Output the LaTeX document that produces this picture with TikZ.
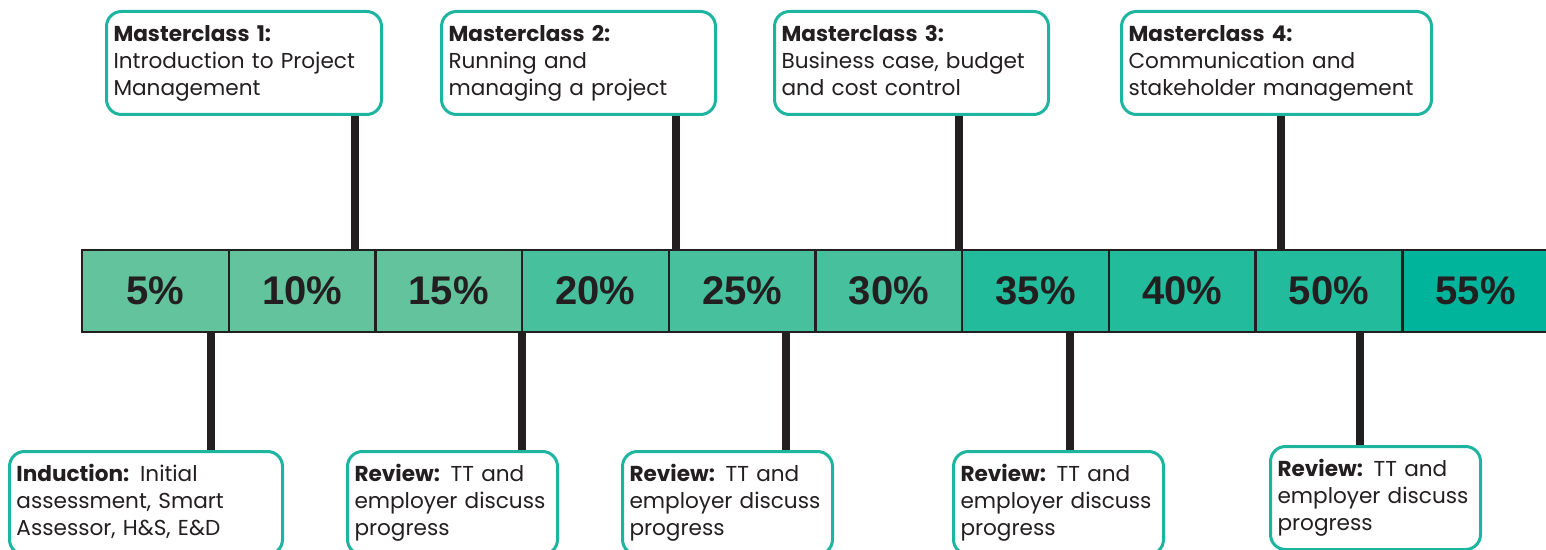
\documentclass[tikz,border=0pt]{standalone}
\usepackage{fontspec}
\setmainfont{Poppins}
\newfontfamily\pctfont{Liberation Sans}
\usetikzlibrary{positioning,calc}
\hyphenpenalty=10000
\definecolor{barA}{RGB}{98,195,156}
\definecolor{barB}{RGB}{71,192,157}
\definecolor{barC}{RGB}{34,187,156}
\definecolor{barD}{RGB}{0,180,155}
\definecolor{boxteal}{RGB}{29,181,160}
\definecolor{inkdark}{RGB}{35,31,32}
\tikzset{
	cell/.style={rectangle,draw=inkdark,line width=1.2pt,minimum width=73.35pt,minimum height=41pt,inner sep=0pt,font=\pctfont\fontsize{20}{20}\bfseries,text=inkdark},
	infobox/.style={rectangle,draw=boxteal,line width=1.5pt,rounded corners=7.5pt,fill=white,anchor=north west,align=left,inner sep=3.5pt,minimum height=51.5pt,font=\fontsize{10.8}{13.5}\selectfont,text=inkdark,execute at begin node=\strut,execute at end node=\strut},
	stem/.style={draw=inkdark,line width=4pt}}
\begin{document}
\begin{tikzpicture}[x=0.5pt,y=-0.5pt]
	\clip (0,0) rectangle (1546,550);
	\node (c1) at (155.35,291) [cell,fill=barA] {5\%};
	\node (c2) at (302.05,291) [cell,fill=barA] {10\%};
	\node (c3) at (448.75,291) [cell,fill=barA] {15\%};
	\node (c4) at (595.45,291) [cell,fill=barB] {20\%};
	\node (c5) at (742.15,291) [cell,fill=barB] {25\%};
	\node (c6) at (888.85,291) [cell,fill=barB] {30\%};
	\node (c7) at (1035.55,291) [cell,fill=barC] {35\%};
	\node (c8) at (1182.25,291) [cell,fill=barC] {40\%};
	\node (c9) at (1328.95,291) [cell,fill=barC] {50\%};
	\node (c10) at (1475.65,291) [cell,fill=barD] {55\%};
	\coordinate (t1) at (355,250);
	\coordinate (t2) at (676,250);
	\coordinate (t3) at (959,250);
	\coordinate (t4) at (1281,250);
	\coordinate (b1) at (211,332);
	\coordinate (b2) at (522,332);
	\coordinate (b3) at (786,332);
	\coordinate (b4) at (1070,332);
	\coordinate (b5) at (1360,332);
	\node (mc1) at (105,10) [infobox,text width=130.5pt] {\textbf{Masterclass 1:}\\Introduction to Project\\Management};
	\node (mc2) at (440,10) [infobox,text width=130pt] {\textbf{Masterclass 2:}\\Running and\\managing a project};
	\node (mc3) at (773,10) [infobox,text width=130pt] {\textbf{Masterclass 3:}\\Business case, budget\\and cost control};
	\node (mc4) at (1120,10) [infobox,text width=148pt] {\textbf{Masterclass 4:}\\Communication and\\stakeholder management};
	\node (ind) at (8,450) [infobox,text width=129.5pt] {\textbf{Induction:} Initial\\assessment, Smart\\Assessor, H\&S, E\&D};
	\node (rv1) at (346,450) [infobox,text width=98pt] {\textbf{Review:} TT and\\employer discuss\\progress};
	\node (rv2) at (621,450) [infobox,text width=98pt] {\textbf{Review:} TT and\\employer discuss\\progress};
	\node (rv3) at (952,450) [infobox,text width=98pt] {\textbf{Review:} TT and\\employer discuss\\progress};
	\node (rv4) at (1269,445) [infobox,text width=98pt] {\textbf{Review:} TT and\\employer discuss\\progress};
	\draw[stem] (t1) -- (t1 |- mc1.south);
	\draw[stem] (t2) -- (t2 |- mc2.south);
	\draw[stem] (t3) -- (t3 |- mc3.south);
	\draw[stem] (t4) -- (t4 |- mc4.south);
	\draw[stem] (b1) -- (b1 |- ind.north);
	\draw[stem] (b2) -- (b2 |- rv1.north);
	\draw[stem] (b3) -- (b3 |- rv2.north);
	\draw[stem] (b4) -- (b4 |- rv3.north);
	\draw[stem] (b5) -- (b5 |- rv4.north);
\end{tikzpicture}
\end{document}
